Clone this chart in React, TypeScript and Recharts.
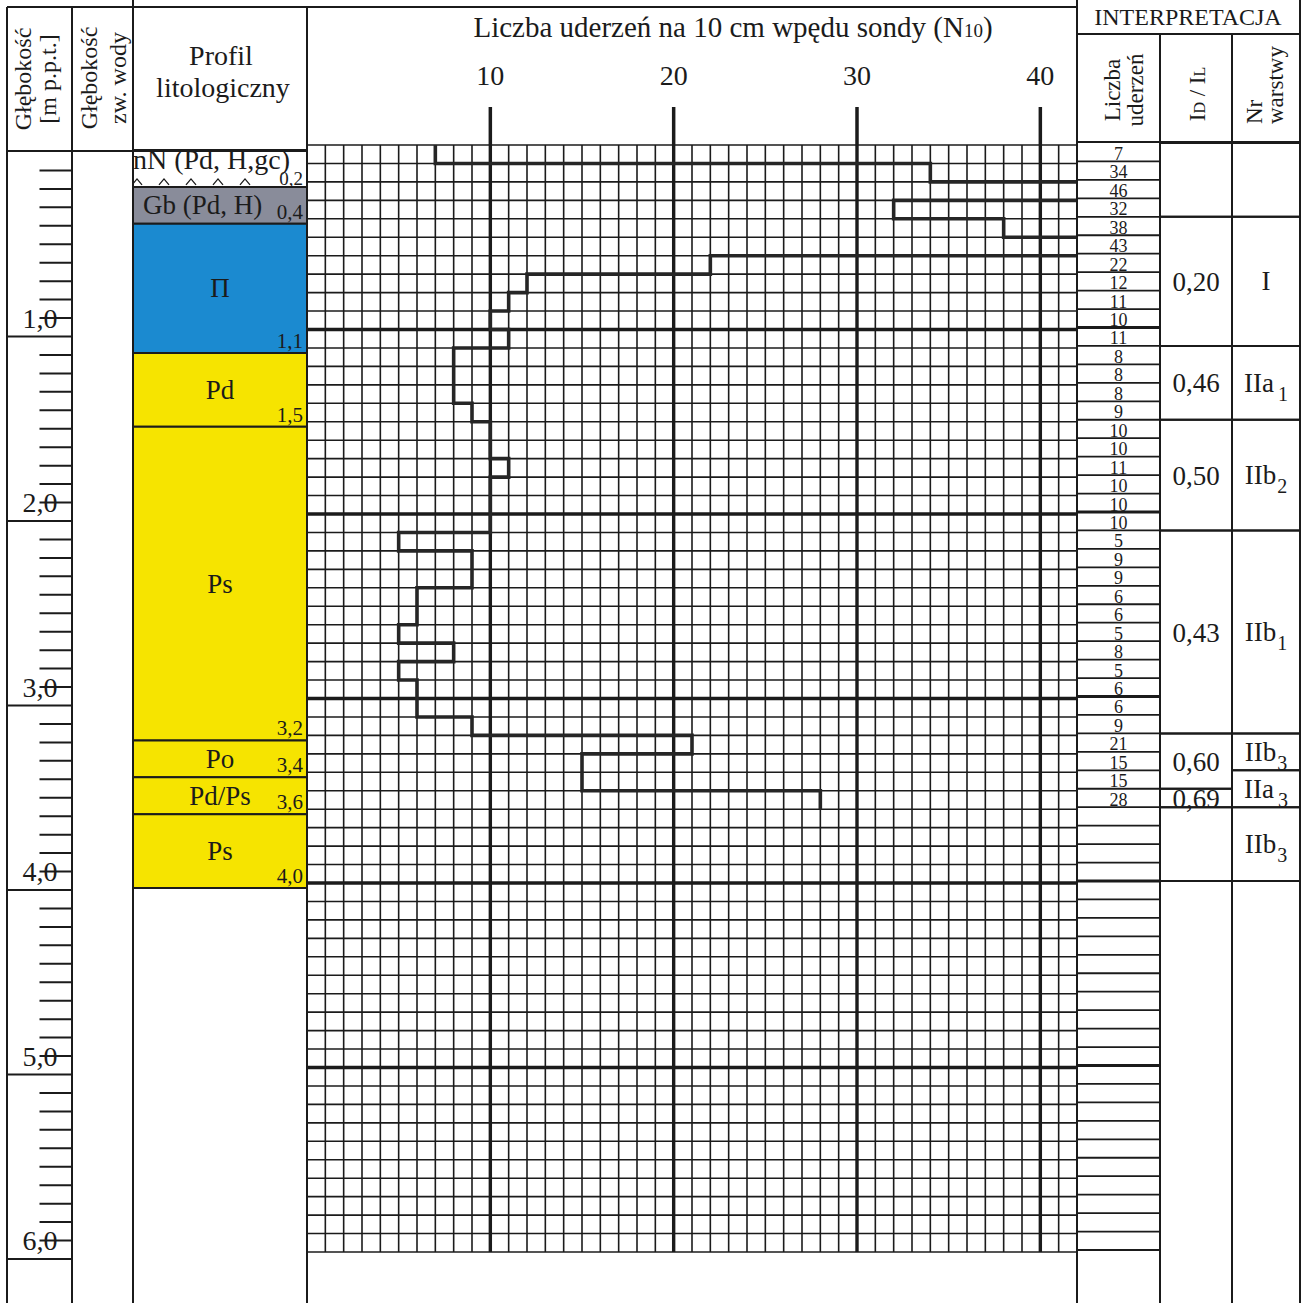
import React from "react";
import {
  ComposedChart,
  LineChart,
  Line,
  Scatter,
  XAxis,
  YAxis,
  ReferenceLine,
  ReferenceArea,
} from "recharts";

const FONT = '"Liberation Serif", "Times New Roman", serif';
const INK = "#1b1b1b";

const PAGE_W = 1304;
const PAGE_H = 1303;
const M_PX = 184.5; // one metre of depth on the sheet
const DEPTH_MAX = 6;
const PLOT_H = DEPTH_MAX * M_PX;

// DPL sounding: blows per 10 cm (N10), listed by interval top [m]
const intervalTop = [
  0, 0.1, 0.2, 0.3, 0.4, 0.5, 0.6, 0.7, 0.8, 0.9, 1.0, 1.1, 1.2, 1.3, 1.4, 1.5, 1.6, 1.7,
  1.8, 1.9, 2.0, 2.1, 2.2, 2.3, 2.4, 2.5, 2.6, 2.7, 2.8, 2.9, 3.0, 3.1, 3.2, 3.3, 3.4, 3.5,
];
const blows = [
  7, 34, 46, 32, 38, 43, 22, 12, 11, 10, 11, 8, 8, 8, 9, 10, 10, 11, 10, 10, 10, 5, 9, 9, 6,
  6, 5, 8, 5, 6, 6, 9, 21, 15, 15, 28,
];
const soundingEnd = 3.6;
const blowTicks = [10, 20, 30, 40];
const blowMax = 42;

// depth scale
const metreMarks = [1, 2, 3, 4, 5, 6];
const metreLabels = ["1,0", "2,0", "3,0", "4,0", "5,0", "6,0"];

// lithology
const layerNames = ["nN (Pd, H,gc)", "Gb (Pd, H)", "\u03A0", "Pd", "Ps", "Po", "Pd/Ps", "Ps"];
const layerTop = [0, 0.2, 0.4, 1.1, 1.5, 3.2, 3.4, 3.6];
const layerBottom = [0.2, 0.4, 1.1, 1.5, 3.2, 3.4, 3.6, 4.0];
const layerBottomLabel = ["0,2", "0,4", "1,1", "1,5", "3,2", "3,4", "3,6", "4,0"];
const layerFill = ["#ffffff", "#898c9a", "#1b8ad0", "#f6e400", "#f6e400", "#f6e400", "#f6e400", "#f6e400"];

// interpretation
const idTop = [0, 0.4, 1.1, 1.5, 2.1, 3.2, 3.5, 3.6];
const idBottom = [0.4, 1.1, 1.5, 2.1, 3.2, 3.5, 3.6, 4.0];
const idValues = ["", "0,20", "0,46", "0,50", "0,43", "0,60", "0,69", ""];
const unitTop = [0, 0.4, 1.1, 1.5, 2.1, 3.2, 3.4, 3.6];
const unitBottom = [0.4, 1.1, 1.5, 2.1, 3.2, 3.4, 3.6, 4.0];
const unitName = ["", "I", "IIa", "IIb", "IIb", "IIb", "IIa", "IIb"];
const unitSub = ["", "", "1", "2", "1", "3", "3", "3"];

const columnMargin = (y0: number) => ({ top: y0, right: 0, bottom: PAGE_H - y0 - PLOT_H, left: 0 });

// invisible anchor series so that each column chart gets its scales
const NoMark = () => <g />;
const anchorRows = (depths: number[]) => depths.map((d) => ({ col: 0.5, depth: d }));

function DepthScale() {
  const y0 = 152;
  const ticks = Array.from({ length: 60 }, (_, i) => i + 1).filter((t) => t % 10 !== 0);
  return (
    <div style={{ position: "absolute", left: 0, top: 0 }}>
      <ComposedChart width={72} height={PAGE_H} margin={{ ...columnMargin(y0), left: 7 }}>
        <XAxis type="number" dataKey="col" domain={[0, 1]} hide />
        <YAxis type="number" dataKey="depth" domain={[0, DEPTH_MAX]} reversed hide />
        <Scatter data={anchorRows(metreMarks)} shape={NoMark} isAnimationActive={false} />
        {metreMarks.map((m) => (
          <ReferenceLine key={`m${m}`} y={m} stroke={INK} strokeWidth={2} />
        ))}
        {ticks.map((t) => {
          // on this sheet the metre label sits on the tick just above the metre line
          const lab = t % 10 === 9 ? metreLabels[(t + 1) / 10 - 1] : undefined;
          return (
            <ReferenceLine
              key={`t${t}`}
              segment={[
                { x: 0.5, y: t / 10 },
                { x: 1, y: t / 10 },
              ]}
              stroke={INK}
              strokeWidth={2}
              label={
                lab
                  ? { value: lab, position: "insideLeft", offset: -17, fontSize: 28, fill: INK, fontFamily: FONT }
                  : undefined
              }
            />
          );
        })}
      </ComposedChart>
    </div>
  );
}

function LayerText({ vb, i }: { vb: any; i: number }) {
  if (!vb) return null;
  const name = layerNames[i];
  const cx = vb.x + vb.width / 2;
  const cy = vb.y + vb.height / 2;
  let main;
  if (i === 0) {
    main = (
      <text x={vb.x} y={vb.y + 19} fontSize={28} fontFamily={FONT} fill={INK}>
        {name}
      </text>
    );
  } else if (i === 1) {
    main = (
      <text x={vb.x + 10} y={cy + 9} fontSize={27} fontFamily={FONT} fill={INK}>
        {name}
      </text>
    );
  } else {
    main = (
      <text x={cx} y={cy + 9} textAnchor="middle" fontSize={27} fontFamily={FONT} fill={INK}>
        {name}
      </text>
    );
  }
  const bottom = vb.y + vb.height;
  return (
    <g>
      {i === 0 &&
        [0, 1, 2, 3, 4].map((k) => {
          const x = vb.x + 4 + k * 27;
          return (
            <path
              key={k}
              d={`M${x - 5},${bottom - 2} L${x},${bottom - 8} L${x + 5},${bottom - 2}`}
              fill="none"
              stroke={INK}
              strokeWidth={1.3}
            />
          );
        })}
      {main}
      <text
        x={vb.x + vb.width - 4}
        y={i === 0 ? bottom - 2 : bottom - 5}
        textAnchor="end"
        fontSize={i === 0 ? 19 : 21}
        fontFamily={FONT}
        fill={INK}
      >
        {layerBottomLabel[i]}
      </text>
    </g>
  );
}

function Lithology() {
  const y0 = 150;
  return (
    <div style={{ position: "absolute", left: 133, top: 0 }}>
      <ComposedChart width={174} height={PAGE_H} margin={columnMargin(y0)}>
        <XAxis type="number" dataKey="col" domain={[0, 1]} hide />
        <YAxis type="number" dataKey="depth" domain={[0, DEPTH_MAX]} reversed hide />
        <Scatter data={anchorRows(layerTop)} shape={NoMark} isAnimationActive={false} />
        {layerNames.map((name, i) => (
          <ReferenceArea
            key={`${name}${i}`}
            x1={0}
            x2={1}
            y1={layerTop[i]}
            y2={layerBottom[i]}
            fill={layerFill[i]}
            fillOpacity={1}
            stroke={INK}
            strokeWidth={2}
            label={(p: any) => <LayerText vb={p.viewBox} i={i} />}
          />
        ))}
      </ComposedChart>
    </div>
  );
}

function SoundingPlot() {
  const rows = intervalTop.map((d, i) => ({ depth: d, n: blows[i] }));
  rows.push({ depth: soundingEnd, n: blows[blows.length - 1] });
  const vLines = Array.from({ length: blowMax + 1 }, (_, i) => i);
  const hLines = Array.from({ length: DEPTH_MAX * 10 + 1 }, (_, i) => i);
  const top = 145;
  return (
    <div style={{ position: "absolute", left: 297, top: 0 }}>
      <LineChart
        layout="vertical"
        width={790}
        height={PAGE_H}
        data={rows}
        margin={{ top: top - 40, right: 10, bottom: PAGE_H - top - PLOT_H, left: 10 }}
      >
        <XAxis
          type="number"
          orientation="top"
          height={40}
          domain={[0, blowMax]}
          ticks={blowTicks}
          interval={0}
          allowDataOverflow
          axisLine={false}
          tickLine={{ stroke: INK, strokeWidth: 3.5 }}
          tickSize={38}
          tickMargin={22}
          tick={{ fontSize: 28, fill: INK, fontFamily: FONT }}
        />
        {/* vertical layout already runs the depth axis downwards */}
        <YAxis type="number" dataKey="depth" domain={[0, DEPTH_MAX]} hide allowDataOverflow />
        {vLines.map((v) => (
          <ReferenceLine
            key={`v${v}`}
            x={v}
            stroke={INK}
            strokeWidth={v % 10 === 0 && v > 0 ? 3.4 : 1.6}
          />
        ))}
        {hLines.map((i) => (
          <ReferenceLine
            key={`h${i}`}
            y={i / 10}
            stroke={INK}
            strokeWidth={i % 10 === 0 && i > 0 && i < 60 ? 3.4 : 1.6}
          />
        ))}
        <Line
          type="stepBefore"
          dataKey="n"
          stroke="#262626"
          strokeWidth={3.6}
          dot={false}
          isAnimationActive={false}
        />
      </LineChart>
    </div>
  );
}

function BlowNumber(props: any) {
  const { cx, cy, payload } = props;
  return (
    <text x={cx} y={cy - 1.5} textAnchor="middle" fontSize={18} fontFamily={FONT} fill={INK}>
      {payload.n}
    </text>
  );
}

function BlowColumn() {
  const y0 = 143;
  const rows = intervalTop.map((d, i) => ({ col: 0.5, bottom: Math.round(d * 10 + 1) / 10, n: blows[i] }));
  const lines = Array.from({ length: DEPTH_MAX * 10 }, (_, i) => i + 1);
  return (
    <div style={{ position: "absolute", left: 1077, top: 0 }}>
      <ComposedChart width={83} height={PAGE_H} margin={columnMargin(y0)}>
        <XAxis type="number" dataKey="col" domain={[0, 1]} hide />
        <YAxis type="number" dataKey="bottom" domain={[0, DEPTH_MAX]} reversed hide />
        {lines.map((i) => (
          <ReferenceLine key={`r${i}`} y={i / 10} stroke={INK} strokeWidth={i % 10 === 0 && i < 60 ? 3.2 : 1.8} />
        ))}
        <Scatter data={rows} shape={BlowNumber} isAnimationActive={false} />
      </ComposedChart>
    </div>
  );
}

function UnitText({ vb, i }: { vb: any; i: number }) {
  if (!vb || !unitName[i]) return null;
  const cx = vb.x + vb.width / 2;
  const cy = vb.y + vb.height / 2;
  return (
    <text x={cx} y={cy + 9} textAnchor="middle" fontSize={27} fontFamily={FONT} fill={INK}>
      {unitName[i]}
      {unitSub[i] ? (
        <tspan fontSize={20} dx={unitName[i].endsWith("a") ? 4 : 1} dy={9}>
          {unitSub[i]}
        </tspan>
      ) : null}
    </text>
  );
}

function Interpretation() {
  const y0 = 143;
  return (
    <>
      <div style={{ position: "absolute", left: 1160, top: 0 }}>
        <ComposedChart width={72} height={PAGE_H} margin={columnMargin(y0)}>
          <XAxis type="number" dataKey="col" domain={[0, 1]} hide />
          <YAxis type="number" dataKey="depth" domain={[0, DEPTH_MAX]} reversed hide />
          <Scatter data={anchorRows(idTop)} shape={NoMark} isAnimationActive={false} />
          {idValues.map((v, i) => (
            <ReferenceArea
              key={`id${i}`}
              x1={0}
              x2={1}
              y1={idTop[i]}
              y2={idBottom[i]}
              fill="none"
              stroke={INK}
              strokeWidth={2}
              label={v ? { value: v, position: "center", fontSize: 27, fill: INK, fontFamily: FONT } : undefined}
            />
          ))}
        </ComposedChart>
      </div>
      <div style={{ position: "absolute", left: 1232, top: 0 }}>
        <ComposedChart width={68} height={PAGE_H} margin={columnMargin(y0)}>
          <XAxis type="number" dataKey="col" domain={[0, 1]} hide />
          <YAxis type="number" dataKey="depth" domain={[0, DEPTH_MAX]} reversed hide />
          <Scatter data={anchorRows(unitTop)} shape={NoMark} isAnimationActive={false} />
          {unitName.map((u, i) => (
            <ReferenceArea
              key={`u${i}`}
              x1={0}
              x2={1}
              y1={unitTop[i]}
              y2={unitBottom[i]}
              fill="none"
              stroke={INK}
              strokeWidth={2}
              label={(p: any) => <UnitText vb={p.viewBox} i={i} />}
            />
          ))}
        </ComposedChart>
      </div>
    </>
  );
}

function Frame() {
  const verticals = [
    [7, 7, PAGE_H],
    [72, 7, PAGE_H],
    [133, 0, PAGE_H],
    [307, 7, PAGE_H],
    [1077, 0, PAGE_H],
    [1160, 34, PAGE_H],
    [1232, 34, PAGE_H],
    [1300, 0, PAGE_H],
  ];
  const horizontals = [
    [7, 7, 1077],
    [151, 7, 307],
    [34, 1077, 1300],
    [142, 1077, 1300],
  ];
  const t = { fontFamily: FONT, fill: INK } as const;
  return (
    <svg
      width={PAGE_W}
      height={PAGE_H}
      style={{ position: "absolute", left: 0, top: 0, pointerEvents: "none" }}
    >
      {verticals.map(([x, y1, y2], k) => (
        <line key={`fv${k}`} x1={x} x2={x} y1={y1} y2={y2} stroke={INK} strokeWidth={2} />
      ))}
      {horizontals.map(([y, x1, x2], k) => (
        <line key={`fh${k}`} x1={x1} x2={x2} y1={y} y2={y} stroke={INK} strokeWidth={2} />
      ))}
      <text transform="translate(31,79) rotate(-90)" textAnchor="middle" fontSize={24} {...t}>
        Głębokość
      </text>
      <text transform="translate(56,79) rotate(-90)" textAnchor="middle" fontSize={24} {...t}>
        [m p.p.t.]
      </text>
      <text transform="translate(97,78) rotate(-90)" textAnchor="middle" fontSize={24} {...t}>
        Głębokość
      </text>
      <text transform="translate(126,78) rotate(-90)" textAnchor="middle" fontSize={24} {...t}>
        zw. wody
      </text>
      <text x={221} y={65} textAnchor="middle" fontSize={28} {...t}>
        Profil
      </text>
      <text x={223} y={97} textAnchor="middle" fontSize={28} {...t}>
        litologiczny
      </text>
      <text x={733} y={37} textAnchor="middle" fontSize={29} {...t}>
        Liczba uderzeń na 10 cm wpędu sondy (N<tspan fontSize={19}>10</tspan>)
      </text>
      <text x={1188} y={25} textAnchor="middle" fontSize={24} {...t}>
        INTERPRETACJA
      </text>
      <text transform="translate(1120,90) rotate(-90)" textAnchor="middle" fontSize={23} {...t}>
        Liczba
      </text>
      <text transform="translate(1143,90) rotate(-90)" textAnchor="middle" fontSize={23} {...t}>
        uderzeń
      </text>
      <text transform="translate(1205,94) rotate(-90)" textAnchor="middle" fontSize={23} {...t}>
        I<tspan fontSize={16}>D</tspan> / I<tspan fontSize={16}>L</tspan>
      </text>
      <text transform="translate(1262,124) rotate(-90)" textAnchor="start" fontSize={23} {...t}>
        Nr
      </text>
      <text transform="translate(1283,124) rotate(-90)" textAnchor="start" fontSize={23} {...t}>
        warstwy
      </text>
    </svg>
  );
}

export default function App() {
  return (
    <div
      style={{
        position: "absolute",
        left: 0,
        top: 0,
        width: PAGE_W,
        height: PAGE_H,
        background: "#ffffff",
        fontFamily: FONT,
        overflow: "hidden",
      }}
    >
      <DepthScale />
      <Lithology />
      <SoundingPlot />
      <BlowColumn />
      <Interpretation />
      <Frame />
    </div>
  );
}
